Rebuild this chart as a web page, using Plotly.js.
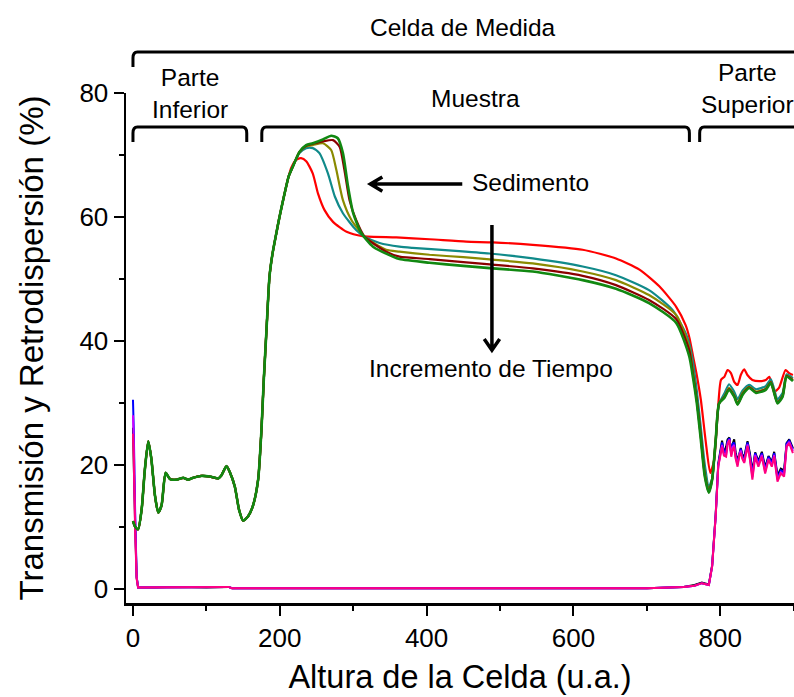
<!DOCTYPE html>
<html>
<head>
<meta charset="utf-8">
<script src="https://cdn.plot.ly/plotly-3.0.1.min.js"></script>
<style>html,body{margin:0;padding:0;background:#fff;}#chart{width:794px;height:697px;}</style>
</head>
<body>
<div id="chart"></div>
<script>
// ---- Backscattering profiles: common part (x <= 212), identical for all times ----
const bsCommonX = [0, 3, 7, 12, 16, 20.8, 25, 30, 34.4, 39, 44.5, 50.5, 59.5, 68.5, 75, 82, 93, 105, 116, 120.5, 127.4, 132, 138.7, 144.6, 150, 156.9, 163.7, 170.5, 175, 178.2, 182, 186, 190, 195.5, 199.6, 204.5, 208.7, 212];
const bsCommonY = [10.9, 10.0, 9.6, 13, 19, 23.8, 21, 15, 12.3, 13.5, 18.7, 17.7, 17.6, 17.9, 17.6, 17.9, 18.2, 18.1, 17.8, 18.3, 19.8, 18.8, 16.5, 12.7, 11.0, 11.7, 13.5, 17.6, 25.6, 33.7, 42, 50.4, 54, 57.5, 60.0, 62.7, 64.9, 66.5];

// ---- Backscattering: time-dependent part ----
const redX = [215.5, 222.3, 229, 236, 245, 252, 261, 272.5, 291, 313, 358.7, 404, 454, 490, 544.6, 612.6, 658, 690, 717, 740, 753, 758, 763, 768, 773.6, 780, 786.4, 791.8, 796.3, 801, 805.6, 810, 814.6, 819, 823.7, 828, 832.7, 837, 843.8, 853, 862, 867, 873.5, 880, 889, 893.9, 899];
const redY = [67.9, 69.2, 69.5, 69.0, 67, 63.8, 61.1, 59.2, 57.6, 56.9, 56.7, 56.4, 56.0, 55.9, 55.5, 54.7, 53.3, 51.5, 48.8, 45.5, 42.5, 40.5, 37.5, 34.5, 30.5, 24.0, 18.7, 20.8, 27.8, 33.7, 34.2, 35.3, 34.8, 33.4, 32.9, 34.5, 35.4, 34.5, 33.7, 33.5, 33.7, 34.2, 31.8, 32.4, 35.3, 34.8, 34.5];

const tealX = [217.7, 226.8, 235.9, 245, 254, 265.7, 275, 286, 304, 315.6, 336, 363, 381, 430, 485.7, 544.6, 612.6, 658, 703, 735, 753, 758, 763, 768, 773.6, 779, 784.5, 789, 793.8, 798.4, 805.6, 812, 819, 823.7, 830.5, 839.5, 848.7, 862, 869, 878, 885, 890.4, 899];
const tealY = [68.1, 70.3, 71.1, 71.1, 70.3, 67, 63.3, 60.6, 57.9, 56.8, 55.8, 55.2, 55.0, 54.6, 54.1, 53.3, 52.0, 50.6, 48.2, 45.0, 41.2, 39.5, 36.5, 32, 26, 20, 16.5, 17.8, 23.8, 29.8, 31.5, 33.0, 31.8, 30.6, 32.0, 32.9, 32.2, 32.7, 33.8, 30.6, 31.6, 34.6, 34.0];

const oliveX = [217.7, 226.8, 235.9, 245, 258.8, 270, 277, 286, 297.6, 315.6, 345, 363, 404, 450, 490, 544.6, 612.6, 658, 703, 740, 757.8, 763, 768, 773.6, 779, 784.5, 789, 793.8, 798.4, 805.6, 812, 819, 823.7, 830.5, 839.5, 848.7, 862, 869, 878, 885, 890.4, 899];
const oliveY = [68.1, 70.5, 71.4, 71.6, 71.9, 70.8, 67.6, 62.7, 59.5, 56.8, 54.7, 54.4, 53.9, 53.5, 53.1, 52.5, 51.2, 49.8, 47.4, 44.2, 39.0, 35, 30.5, 24.5, 18.6, 15.8, 17.7, 24, 29.9, 31.0, 32.4, 31.2, 30.0, 31.6, 32.6, 31.8, 32.3, 33.4, 30.1, 31.2, 34.4, 33.7];

const darkRedX = [217.7, 226.8, 235.9, 245, 258.8, 272.5, 281.6, 288, 295, 304, 315.6, 345, 363, 404, 450, 490, 544.6, 612.6, 658, 703, 740, 757.8, 763, 768, 773.6, 779, 784.5, 789, 793.8, 798.4, 805.6, 812, 819, 823.7, 830.5, 839.5, 848.7, 862, 869, 878, 885, 890.4, 899];
const darkRedY = [68.1, 70.5, 71.5, 71.8, 72.2, 72.4, 71.3, 67.6, 62.7, 59.5, 56.8, 54.4, 53.6, 53.2, 52.7, 52.3, 51.7, 50.5, 49.0, 46.6, 43.5, 38.5, 34.5, 30.5, 24.5, 18.3, 15.6, 17.6, 24, 29.9, 30.9, 32.2, 31.1, 29.8, 31.4, 32.5, 31.7, 32.2, 33.3, 30.0, 31.1, 34.3, 33.6];

const greenX = [217.7, 226.8, 235.9, 245, 258.8, 270, 279, 286, 293, 300, 311, 327, 354, 363, 404, 450, 490, 544.6, 612.6, 658, 703, 740, 757.8, 763, 768, 773.6, 779, 784.5, 789, 793.8, 798.4, 805.6, 812, 819, 823.7, 830.5, 839.5, 848.7, 862, 869, 878, 885, 890.4, 899];
const greenY = [68.1, 70.5, 71.6, 71.9, 72.5, 73.1, 72.7, 70.3, 64.9, 60.6, 57.4, 55.2, 53.6, 53.2, 52.6, 52.1, 51.7, 51.2, 49.8, 48.4, 46.1, 42.9, 37.5, 34, 30, 24, 18.1, 15.5, 17.6, 24, 29.9, 30.8, 32.1, 31.0, 29.7, 31.3, 32.4, 31.6, 32.1, 33.2, 29.9, 31.0, 34.2, 33.5];

// ---- Transmission profiles ----
const tX = [0, 1, 3, 5, 7, 30, 60, 100, 130, 135, 200, 300, 400, 500, 600, 700, 750, 765, 775, 780, 784.5, 789, 793.8, 797.3, 801, 802.5, 805, 808, 810, 812.5, 815, 817, 819, 821, 823.6, 826, 828, 830, 832.7, 835, 837.2, 840.5, 843.8, 847.6, 852, 856.7, 861.2, 865.8, 870.3, 873.5, 878, 882.5, 887, 890.4, 894, 899];
const tBlackY = [26, 22, 10, 1.8, 0.2, 0.2, 0.3, 0.2, 0.3, 0.1, 0.1, 0.1, 0.1, 0.1, 0.1, 0.1, 0.3, 0.6, 1.0, 0.8, 0.7, 3.8, 12.0, 20.2, 22.7, 23.9, 21.9, 22.9, 24.1, 24.4, 21.9, 23.4, 24.1, 22.0, 20.6, 22.0, 22.7, 21.7, 21.2, 22.6, 23.8, 21.8, 18.9, 22.0, 20.6, 22.1, 19.6, 21.4, 20.5, 22.1, 18.3, 19.4, 19.1, 23.5, 24.1, 22.7];
const tBlueY = [30.5, 26, 12, 2, 0.2, 0.2, 0.3, 0.2, 0.3, 0.1, 0.1, 0.1, 0.1, 0.1, 0.1, 0.1, 0.3, 0.5, 0.9, 0.7, 0.6, 3.7, 11.8, 19.9, 22.6, 23.6, 22.2, 22.0, 23.8, 24.3, 21.8, 23.4, 23.6, 21.5, 20.3, 21.9, 22.6, 21.4, 20.8, 22.4, 23.6, 21.4, 18.4, 21.9, 20.3, 21.9, 19.2, 21.3, 20.2, 21.9, 17.9, 19.1, 18.7, 23.4, 23.9, 22.5];
const tMagentaY = [28, 24, 11, 1.9, 0.2, 0.2, 0.3, 0.2, 0.3, 0.1, 0.1, 0.1, 0.1, 0.1, 0.1, 0.1, 0.3, 0.5, 0.9, 0.7, 0.6, 3.6, 11.7, 19.8, 22.5, 23.2, 21.8, 21.6, 23.5, 24.1, 21.6, 22.9, 23.2, 21.2, 20.0, 21.7, 22.3, 21.2, 20.5, 22.1, 23.3, 21.1, 18.0, 21.6, 20.0, 21.6, 18.9, 21.0, 19.9, 21.6, 17.6, 18.8, 18.4, 23.1, 23.7, 22.2];
const tPinkY = [25, 21, 9, 1.6, 0.2, 0.2, 0.3, 0.2, 0.3, 0.1, 0.1, 0.1, 0.1, 0.1, 0.1, 0.1, 0.3, 0.5, 0.9, 0.7, 0.6, 3.6, 11.7, 19.7, 22.4, 22.9, 21.5, 21.3, 23.2, 24.0, 21.3, 22.5, 22.9, 21.0, 19.7, 21.5, 21.9, 21.0, 20.3, 21.8, 23.0, 20.8, 17.6, 21.3, 19.7, 21.3, 18.6, 20.8, 19.7, 21.3, 17.3, 18.6, 18.1, 22.9, 23.5, 21.9];

// ---- Labels ----
const xTitle = 'Altura de la Celda (u.a.)';
const yTitle = 'Transmisión y Retrodispersión (%)';
const xTickVals = [0, 200, 400, 600, 800];
const yTickVals = [0, 20, 40, 60, 80];

const F = '"Liberation Sans", Arial, Helvetica, sans-serif';

function bs(xs, ys, color, w) {
  return {x: bsCommonX.concat(xs), y: bsCommonY.concat(ys), type: 'scatter', mode: 'lines',
          line: {color: color, width: w, shape: 'spline', smoothing: 0.6}, hoverinfo: 'skip', showlegend: false};
}
function tr(ys, color) {
  return {x: tX, y: ys, type: 'scatter', mode: 'lines', line: {color: color, width: 2},
          hoverinfo: 'skip', showlegend: false};
}

const data = [
  tr(tBlackY, '#000000'),
  tr(tBlueY, '#0000FF'),
  tr(tMagentaY, '#CC00FF'),
  tr(tPinkY, '#FF0080'),
  bs(redX, redY, '#FF0000', 2.2),
  bs(tealX, tealY, '#108A8A', 2.2),
  bs(oliveX, oliveY, '#8A8A00', 2.2),
  bs(darkRedX, darkRedY, '#8B0000', 2.2),
  bs(greenX, greenY, '#118811', 2.6)
];

function bracket(x0, x1, yTop, yTip, r) {
  const dy = 0.012;
  return {type: 'path', xref: 'x', yref: 'paper', line: {color: '#000', width: 3},
    path: `M ${x0},${yTip} L ${x0},${yTop - dy} Q ${x0},${yTop} ${x0 + r},${yTop} L ${x1 - r},${yTop} Q ${x1},${yTop} ${x1},${yTop - dy} L ${x1},${yTip}`};
}

const shapes = [
  bracket(0, 1000, 1.0804, 1.051, 6),
  bracket(0, 155, 0.9333, 0.9039, 6),
  bracket(175.5, 758, 0.9333, 0.9039, 6),
  bracket(772, 1000, 0.9333, 0.9039, 6),
  {type: 'path', xref: 'x', yref: 'y', line: {color: '#000', width: 3.5},
   path: 'M 448.6,65.3 L 323.4,65.3 M 339.7,66.45 L 323.4,65.3 L 339.7,64.15'},
  {type: 'path', xref: 'x', yref: 'y', line: {color: '#000', width: 3.5},
   path: 'M 489,58.7 L 489,38.5 M 478.5,40.3 L 489,38.5 L 499.5,40.3'}
];

const annFont = {family: F, size: 24.5, color: '#000'};
const annotations = [
  {text: 'Celda de Medida', x: 450, y: 1.1275, xref: 'x', yref: 'paper', showarrow: false, font: annFont, xanchor: 'center', yanchor: 'middle'},
  {text: 'Parte<br>Inferior', x: 77.5, y: 0.999, xref: 'x', yref: 'paper', showarrow: false, font: annFont, xanchor: 'center', yanchor: 'middle'},
  {text: 'Muestra', x: 467, y: 0.990, xref: 'x', yref: 'paper', showarrow: false, font: annFont, xanchor: 'center', yanchor: 'middle'},
  {text: 'Parte<br>Superior', x: 837, y: 1.009, xref: 'x', yref: 'paper', showarrow: false, font: annFont, xanchor: 'center', yanchor: 'middle'},
  {text: 'Sedimento', x: 542, y: 65.5, xref: 'x', yref: 'y', showarrow: false, font: annFont, xanchor: 'center', yanchor: 'middle'},
  {text: 'Incremento de Tiempo', x: 488, y: 35.6, xref: 'x', yref: 'y', showarrow: false, font: annFont, xanchor: 'center', yanchor: 'middle'}
];

const layout = {
  width: 794, height: 697,
  margin: {l: 126, r: 0, t: 93, b: 94},
  paper_bgcolor: '#fff', plot_bgcolor: '#fff',
  showlegend: false,
  xaxis: {
    range: [-9.5, 900.5], tickvals: xTickVals, ticktext: xTickVals.map(String),
    ticks: 'outside', ticklen: 10, tickwidth: 2, tickcolor: '#000',
    minor: {dtick: 100, tick0: 0, ticks: 'outside', ticklen: 5, tickwidth: 2, tickcolor: '#000', showgrid: false},
    showline: true, linecolor: '#000', linewidth: 2.5, showgrid: false, zeroline: false,
    tickfont: {family: F, size: 26, color: '#000'},
    title: {text: xTitle, font: {family: F, size: 32.5, color: '#000'}, standoff: 14},
    automargin: false, fixedrange: true
  },
  yaxis: {
    range: [-2.3, 80], tickvals: yTickVals, ticktext: yTickVals.map(String),
    ticks: 'outside', ticklen: 10, tickwidth: 2, tickcolor: '#000',
    minor: {dtick: 10, tick0: 0, ticks: 'outside', ticklen: 5, tickwidth: 2, tickcolor: '#000', showgrid: false},
    showline: true, linecolor: '#000', linewidth: 2.5, showgrid: false, zeroline: false,
    tickfont: {family: F, size: 26, color: '#000'},
    title: {text: yTitle, font: {family: F, size: 33, color: '#000'}, standoff: 26},
    automargin: false, fixedrange: true
  },
  shapes: shapes,
  annotations: annotations
};

Plotly.newPlot('chart', data, layout, {staticPlot: true, displayModeBar: false});
</script>
</body>
</html>
